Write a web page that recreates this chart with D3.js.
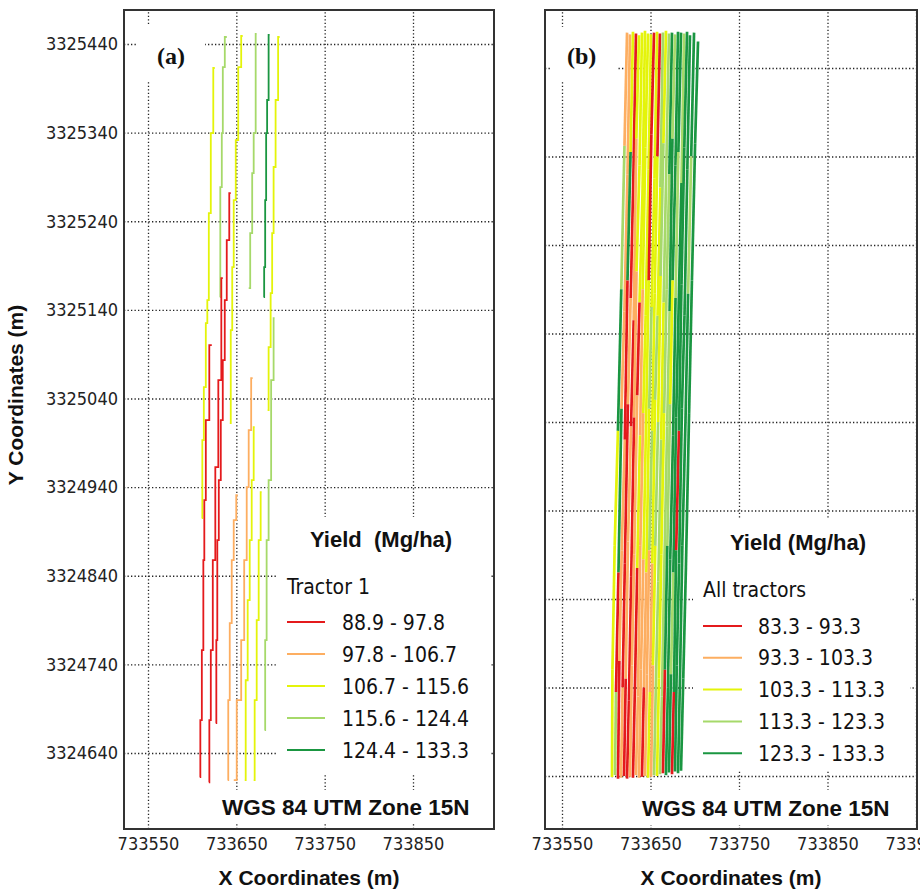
<!DOCTYPE html>
<html>
<head>
<meta charset="utf-8">
<script src="https://cdn.jsdelivr.net/npm/d3@7"></script>
<style>
  body { margin: 0; background: #fff; }
  svg { display: block; overflow: hidden; }
  .grid line { stroke: #222; stroke-width: 1.3; stroke-dasharray: 1.3 2.2; }
  .grid .domain { display: none; }
  .grid text { font-family: "DejaVu Sans Condensed", "DejaVu Sans", sans-serif; font-stretch: condensed; font-size: 18px; fill: #222; }
  .cond { font-family: "DejaVu Sans Condensed", "DejaVu Sans", sans-serif; font-stretch: condensed; fill: #111; }
  .bold { font-family: "Liberation Sans", Arial, sans-serif; font-weight: bold; fill: #111; }
  .tag { font-family: "Liberation Serif", "Times New Roman", serif; font-weight: bold; font-size: 24px; fill: #111; }
</style>
</head>
<body>
<svg id="chart" width="920" height="889"></svg>
<script>
// yield classes, red -> dark green
const yieldColors = ["#e41a1c", "#fdae61", "#e4f40a", "#a6d96a", "#1a9641"];
const tractor1Labels = ["88.9 - 97.8", "97.8 - 106.7", "106.7 - 115.6", "115.6 - 124.4", "124.4 - 133.3"];
const allLabels = ["83.3 - 93.3", "93.3 - 103.3", "103.3 - 113.3", "113.3 - 123.3", "123.3 - 133.3"];

const yTicks = [3325440, 3325340, 3325240, 3325140, 3325040, 3324940, 3324840, 3324740, 3324640];
const xTicksA = [733550, 733650, 733750, 733850];
const xTicksB = [733550, 733650, 733750, 733850, 733950];

// track vertices in metres east of 733600 / north of 3324600
const E0 = 733600, N0 = 3324600;

const tractor1Tracks = [
  [[25.6,812.9],[22.2,739.5],[20.0,649.2],[17.7,551.1],[16.6,525.0],[14.3,452.9],[12.1,393.0],[10.9,305.0]],
  [[39.2,847.9],[34.7,814.0],[34.7,739.5],[32.4,678.6],[31.3,554.4]],
  [[57.2,849.0],[53.8,814.0],[50.5,731.6],[48.2,663.9],[45.9,588.3],[44.8,517.2],[42.6,412.2]],
  [[43.7,671.8],[40.3,618.8],[38.0,551.1],[35.8,483.3],[33.5,415.6],[31.3,347.9],[29.0,280.2],[27.9,167.3],[26.8,73.6]],
  [[34.7,575.9],[31.3,460.8],[27.9,362.6],[24.5,257.6],[22.2,156.0],[20.0,77.0],[18.9,7.0]],
  [[22.2,500.3],[16.6,415.6],[14.3,325.3],[13.2,257.6],[12.1,156.0],[9.8,77.0],[8.7,12.7]],
  [[68.5,463.0],[65.1,404.3],[62.9,339.9],[60.6,257.6],[57.2,167.3],[53.8,99.6],[47.1,9.3]],
  [[51.6,330.9],[48.2,302.7],[45.9,257.6],[43.7,186.5],[41.4,99.6],[40.3,9.3]],
  [[70.8,407.7],[68.5,347.9],[66.3,280.2],[64.0,212.4],[61.7,122.1],[59.5,9.3]],
  [[78.7,334.3],[76.4,280.2],[74.2,189.9],[71.9,99.6],[69.6,9.3]],
  [[93.3,530.7],[91.1,460.8],[87.7,347.9],[85.4,280.2],[83.2,167.3],[82.1,65.7]],
  [[73.0,851.3],[70.8,739.5],[68.5,694.4],[67.4,626.7],[64.0,564.6]],
  [[87.7,850.2],[85.4,776.8],[84.3,739.5],[83.2,663.9],[82.1,588.3],[80.9,554.4]],
  [[99.0,847.9],[95.6,776.8],[93.3,701.2],[91.1,626.7],[90.0,558.9],[87.7,498.0],[85.4,426.9]]
];
const tractor1Class = [2, 3, 2, 0, 0, 0, 1, 1, 2, 2, 3, 3, 4, 2];

// all tractors, west to east
const allTracks = [
  [[23.5,880],[20.6,752],[17.0,590],[13.2,430],[9.5,300],[7.0,160],[6.5,39]],
  [[26.8,878],[24.0,720],[20.5,565],[17.2,455],[13.8,270],[11.0,135],[9.9,41]],
  [[30.2,881],[27.5,745],[24.0,600],[21.0,420],[17.5,295],[14.8,170],[13.3,37]],
  [[33.6,879],[30.5,710],[27.6,580],[24.5,460],[21.0,280],[18.5,140],[16.7,38]],
  [[37.0,877],[34.0,760],[31.0,555],[28.0,435],[24.6,305],[22.0,150],[20.1,40]],
  [[40.4,880],[37.6,730],[34.2,610],[31.5,445],[28.2,265],[25.6,125],[23.5,37]],
  [[43.8,882],[41.0,700],[37.6,575],[35.0,470],[31.6,290],[29.0,165],[26.8,39]],
  [[47.2,879],[44.2,750],[41.2,590],[38.2,425],[35.0,275],[32.5,145],[30.2,38]],
  [[50.6,878],[47.8,725],[44.5,560],[41.8,450],[38.5,300],[35.8,130],[33.6,41]],
  [[54.0,880],[51.0,765],[48.0,600],[45.0,440],[42.0,285],[39.2,160],[37.0,38]],
  [[57.4,881],[54.5,715],[51.2,570],[48.5,455],[45.3,270],[42.5,140],[40.4,39]],
  [[60.7,879],[57.8,740],[54.7,585],[51.8,430],[48.6,295],[46.0,155],[43.8,40]],
  [[64.1,880],[61.2,705],[58.0,560],[55.2,465],[52.0,280],[49.3,135],[47.2,38]],
  [[67.5,882],[64.6,755],[61.4,605],[58.6,440],[55.4,300],[52.8,165],[50.6,39]],
  [[70.9,879],[68.0,735],[64.8,575],[62.0,420],[58.8,260],[56.1,145],[54.0,41]],
  [[74.3,880],[71.3,720],[68.2,590],[65.4,450],[62.2,290],[59.5,150],[57.4,40]],
  [[77.7,878],[74.8,760],[71.6,565],[68.8,435],[65.6,275],[62.9,130],[60.7,42]],
  [[81.1,881],[78.2,730],[75.0,600],[72.2,460],[69.0,300],[66.3,160],[64.1,43]],
  [[84.5,880],[81.5,745],[78.3,580],[75.5,425],[72.3,285],[69.7,140],[67.5,41]],
  [[87.9,879],[85.0,710],[81.8,570],[79.0,445],[75.8,270],[73.1,155],[70.9,44]],
  [[91.3,881],[88.2,750],[85.0,595],[82.2,430],[79.0,295],[76.4,135],[74.3,42]],
  [[94.6,877],[91.6,725],[88.4,560],[85.5,455],[82.3,280],[79.7,165],[77.7,45]],
  [[99.2,880],[96.0,740],[92.5,585],[89.5,440],[86.0,300],[83.2,145],[81.1,43]],
  [[103.7,870],[100.4,755],[96.8,600],[93.6,450],[90.0,275],[87.0,150],[84.5,46]]
];
// class of each segment, top to bottom
const allClass = [
  [1,3,4,2,2,2], [1,1,1,4,0,3], [2,4,0,1,1,0], [0,0,1,0,0,1],
  [2,1,0,1,1,0], [2,2,1,0,0,0], [2,2,0,1,1,1], [2,2,1,2,0,0],
  [2,2,2,1,1,1], [0,0,2,2,1,1], [2,2,3,2,1,0], [0,2,2,3,1,1],
  [3,2,3,2,1,2], [2,3,2,3,2,1], [3,3,2,3,3,3], [4,3,3,2,2,2],
  [3,4,3,3,3,3], [4,4,2,3,4,0], [4,3,4,4,4,4], [3,4,4,4,3,4],
  [4,4,4,0,4,0], [4,4,4,4,4,4], [4,3,4,4,4,4], [4,4,4,4,4,4]
];

const svg = d3.select("#chart");

function drawPanel(p) {
  const g = svg.append("g");
  g.append("rect").attr("x", p.left).attr("y", p.top)
    .attr("width", p.right - p.left).attr("height", p.bottom - p.top).attr("fill", "#fff");

  g.append("g").attr("class", "grid").attr("transform", `translate(0,${p.bottom})`)
    .call(d3.axisBottom(p.x).tickValues(p.xTicks).tickSize(-(p.bottom - p.top))
      .tickPadding(8).tickFormat(d3.format("d")));
  g.append("g").attr("class", "grid").attr("transform", `translate(${p.left},0)`)
    .call(d3.axisLeft(p.y).tickValues(yTicks).tickSize(-(p.right - p.left))
      .tickPadding(6).tickFormat(p.yLabels ? d3.format("d") : () => ""));

  // white boxes behind tag, legend and datum note
  p.boxes.forEach(b => {
    g.append("rect").attr("x", b[0]).attr("y", b[1]).attr("width", b[2]).attr("height", b[3]).attr("fill", "#fff");
  });

  const line = d3.line()
    .x(d => p.x(E0 + d[0]))
    .y(d => p.y(N0 + d[1]))
    .curve(p.curve);

  p.draw(g, line);

  g.append("text").attr("class", "tag").attr("x", p.tag[0]).attr("y", p.tag[1]).text(p.tag[2]);

  const lg = p.legend;
  g.append("text").attr("class", "bold").attr("x", lg.titleX).attr("y", lg.titleY)
    .style("font-size", "22px").style("white-space", "pre").text(lg.title);
  g.append("text").attr("class", "cond").attr("x", lg.subX).attr("y", lg.subY)
    .style("font-size", "21px").text(lg.sub);
  lg.labels.forEach((t, i) => {
    const yy = lg.y0 + i * lg.dy;
    g.append("line").attr("x1", lg.x1).attr("x2", lg.x2).attr("y1", yy).attr("y2", yy)
      .attr("stroke", yieldColors[i]).attr("stroke-width", 2);
    g.append("text").attr("class", "cond").attr("x", lg.labelX).attr("y", yy)
      .attr("dy", "0.36em").style("font-size", "21px").text(t);
  });

  g.append("text").attr("class", "bold").attr("x", p.wgs[0]).attr("y", p.wgs[1])
    .style("font-size", "22.5px").text("WGS 84 UTM Zone 15N");

  g.append("text").attr("class", "bold").attr("x", (p.left + p.right) / 2).attr("y", 885)
    .attr("text-anchor", "middle").style("font-size", "21px").text("X Coordinates (m)");

  g.append("rect").attr("x", p.left).attr("y", p.top)
    .attr("width", p.right - p.left).attr("height", p.bottom - p.top)
    .attr("fill", "none").attr("stroke", "#333").attr("stroke-width", 2);
}

// (a) tractor 1
drawPanel({
  left: 124, right: 494, top: 10, bottom: 829,
  x: d3.scaleLinear().domain([733550, 733850]).range([148, 413]),
  y: d3.scaleLinear().domain([3324640, 3325440]).range([753, 44]),
  xTicks: xTicksA, yLabels: true, curve: d3.curveStep,
  boxes: [[138, 25, 67, 57], [277, 517, 213, 256], [218, 790, 262, 33]],
  tag: [157, 64, "(a)"],
  legend: { title: "Yield  (Mg/ha)", titleX: 310, titleY: 547, sub: "Tractor 1", subX: 287, subY: 594,
    labels: tractor1Labels, x1: 287, x2: 325, y0: 622, dy: 32, labelX: 342 },
  wgs: [222, 815],
  draw: (g, line) => {
    tractor1Tracks.forEach((trk, i) => {
      g.append("path").attr("d", line(trk)).attr("fill", "none")
        .attr("stroke", yieldColors[tractor1Class[i]]).attr("stroke-width", 1.8);
    });
  }
});

// (b) all tractors
drawPanel({
  left: 545, right: 917, top: 10, bottom: 829,
  x: d3.scaleLinear().domain([733550, 733950]).range([562, 916]),
  y: d3.scaleLinear().domain([3324640, 3325440]).range([776, 68]),
  xTicks: xTicksB, yLabels: false, curve: d3.curveLinear,
  boxes: [[551, 27, 66, 55], [693, 518, 217, 252], [638, 790, 262, 35]],
  tag: [567, 64, "(b)"],
  legend: { title: "Yield (Mg/ha)", titleX: 730, titleY: 550, sub: "All tractors", subX: 703, subY: 597,
    labels: allLabels, x1: 703, x2: 742, y0: 626, dy: 31.8, labelX: 758 },
  wgs: [642, 816],
  draw: (g, line) => {
    allTracks.forEach((trk, i) => {
      for (let s = 0; s < trk.length - 1; s++) {
        g.append("path").attr("d", line([trk[s], trk[s + 1]])).attr("fill", "none")
          .attr("stroke", yieldColors[allClass[i][s]]).attr("stroke-width", 2.7);
      }
    });
  }
});

svg.append("text").attr("class", "bold")
  .attr("transform", "translate(23,395) rotate(-90)")
  .attr("text-anchor", "middle").style("font-size", "21px").text("Y Coordinates (m)");
</script>
</body>
</html>
